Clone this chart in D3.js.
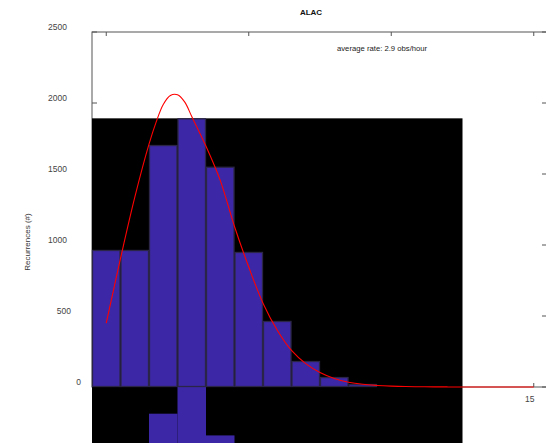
<!DOCTYPE html>
<html>
<head>
	<meta charset="utf-8">
	<title>ALAC</title>
	<script src="https://d3js.org/d3.v7.min.js"></script>
	<style>
		body {
			margin: 0;
			background: white;
		}
		text {
			font-family: "Liberation Sans", Arial, sans-serif;
		}
	</style>
</head>
<body>
	<div id="chart"></div>
	<script type="text/javascript">

		// histogram counts per bin (bins 0..12)
		var bins = [0, 1, 2, 3, 4, 5, 6, 7, 8, 9, 10, 11, 12];
		var counts = [965, 965, 1704, 1892, 1551, 951, 465, 183, 70, 21, 5, 2, 1];

		// fitted curve
		var fitX = [0, 0.5, 1, 1.5, 1.75, 2, 2.25, 2.5, 2.75, 3, 3.5, 4, 4.5, 5, 5.5, 6, 6.5, 7, 7.5,
			8, 8.5, 9, 9.5, 10, 10.5, 11, 11.5, 12, 12.5, 13, 13.5, 14, 14.5, 15];
		var fitY = [450, 905, 1335, 1710, 1865, 1990, 2053, 2058, 2008, 1905, 1695, 1455, 1130, 845, 590,
			400, 258, 165, 102, 60, 34, 19, 11, 6, 3, 2, 1, 0.5, 0.2, 0, 0, 0, 0, 0];

		var yTicks = [0, 500, 1000, 1500, 2000, 2500];
		var xTicks = [0, 5, 10, 15];

		var W = 546, H = 443;
		var axisColor = "#555";

		var svg = d3.select("#chart").append("svg")
			.attr("width", W)
			.attr("height", H);

		var x = d3.scaleLinear().domain([-0.5, 15.5]).range([92, 548]);
		var y = d3.scaleLinear().domain([0, 2500]).range([387, 32]);

		// frame
		var frame = svg.append("g")
			.attr("stroke", axisColor)
			.attr("stroke-width", 1)
			.attr("fill", "none");
		frame.append("rect")
			.attr("x", x(-0.5))
			.attr("y", y(2500))
			.attr("width", x(15.5) - x(-0.5))
			.attr("height", y(0) - y(2500));

		// x ticks top and bottom
		frame.selectAll("line.xt")
			.data(xTicks)
			.enter()
			.append("line")
			.attr("x1", function (d) { return x(d); })
			.attr("x2", function (d) { return x(d); })
			.attr("y1", y(2500))
			.attr("y2", y(2500) + 4);
		frame.selectAll("line.xb")
			.data(xTicks)
			.enter()
			.append("line")
			.attr("x1", function (d) { return x(d); })
			.attr("x2", function (d) { return x(d); })
			.attr("y1", y(0))
			.attr("y2", y(0) - 4);

		// y ticks left and right
		frame.selectAll("line.yl")
			.data(yTicks)
			.enter()
			.append("line")
			.attr("x1", x(-0.5))
			.attr("x2", x(-0.5) + 5)
			.attr("y1", function (d) { return y(d); })
			.attr("y2", function (d) { return y(d); });
		frame.selectAll("line.yr")
			.data(yTicks)
			.enter()
			.append("line")
			.attr("x1", x(15.5))
			.attr("x2", x(15.5) - 6)
			.attr("y1", function (d) { return y(d); })
			.attr("y2", function (d) { return y(d); });

		// y tick labels (the short ones sit a bit further right)
		var shift = { 0: 14, 500: 4 };
		svg.selectAll("text.ylab")
			.data(yTicks)
			.enter()
			.append("text")
			.attr("x", function (d) { return 67 + (shift[d] || 0); })
			.attr("y", function (d) { return y(d) - 5; })
			.attr("dy", "0.35em")
			.attr("text-anchor", "end")
			.attr("font-size", "8.5px")
			.attr("fill", "#444")
			.text(function (d) { return d; });

		// x tick labels (mostly hidden under the black block)
		svg.selectAll("text.xlab")
			.data(xTicks)
			.enter()
			.append("text")
			.attr("x", function (d) { return x(d) - 4; })
			.attr("y", y(0) + 12)
			.attr("dy", "0.35em")
			.attr("text-anchor", "middle")
			.attr("font-size", "8.5px")
			.attr("fill", "#444")
			.text(function (d) { return d; });

		// black block behind the bars
		var maxC = d3.max(counts);
		var drop = y(0) - y(maxC);
		svg.append("rect")
			.attr("x", x(-0.5))
			.attr("y", y(maxC))
			.attr("width", x(bins.length - 0.5) - x(-0.5))
			.attr("height", 2 * drop)
			.attr("fill", "black");

		// shifted copy of the bars
		svg.append("g")
			.attr("transform", "translate(0," + drop + ")")
			.selectAll("rect")
			.data(counts)
			.enter()
			.append("rect")
			.attr("x", function (d, i) { return x(bins[i] - 0.5); })
			.attr("y", function (d) { return y(d); })
			.attr("width", x(1) - x(0))
			.attr("height", function (d) { return y(0) - y(d); })
			.attr("fill", "#3c28a6");

		// main bars
		svg.append("g")
			.selectAll("rect")
			.data(counts)
			.enter()
			.append("rect")
			.attr("x", function (d, i) { return x(bins[i] - 0.5) + 0.5; })
			.attr("y", function (d) { return y(d) + 0.5; })
			.attr("width", x(1) - x(0) - 1)
			.attr("height", function (d) { return Math.max(0, y(0) - y(d) - 1); })
			.attr("fill", "#3c28a6")
			.attr("stroke", "#2b2648")
			.attr("stroke-width", 1.3);

		// fitted curve
		var line = d3.line()
			.x(function (d, i) { return x(fitX[i]); })
			.y(function (d) { return y(d); })
			.curve(d3.curveCatmullRom);
		svg.append("path")
			.datum(fitY)
			.attr("d", line)
			.attr("fill", "none")
			.attr("stroke", "#ff0000")
			.attr("stroke-width", 1.1);

		// texts
		svg.append("text")
			.attr("x", 311)
			.attr("y", 15)
			.attr("text-anchor", "middle")
			.attr("font-size", "8px")
			.attr("font-weight", "bold")
			.attr("fill", "#111")
			.text("ALAC");

		svg.append("text")
			.attr("x", 337)
			.attr("y", 51)
			.attr("font-size", "7.7px")
			.attr("fill", "#222")
			.text("average rate: 2.9 obs/hour");

		svg.append("text")
			.attr("transform", "translate(30,242) rotate(-90)")
			.attr("text-anchor", "middle")
			.attr("font-size", "8px")
			.attr("fill", "#333")
			.text("Recurrences (#)");
	</script>
</body>
</html>
